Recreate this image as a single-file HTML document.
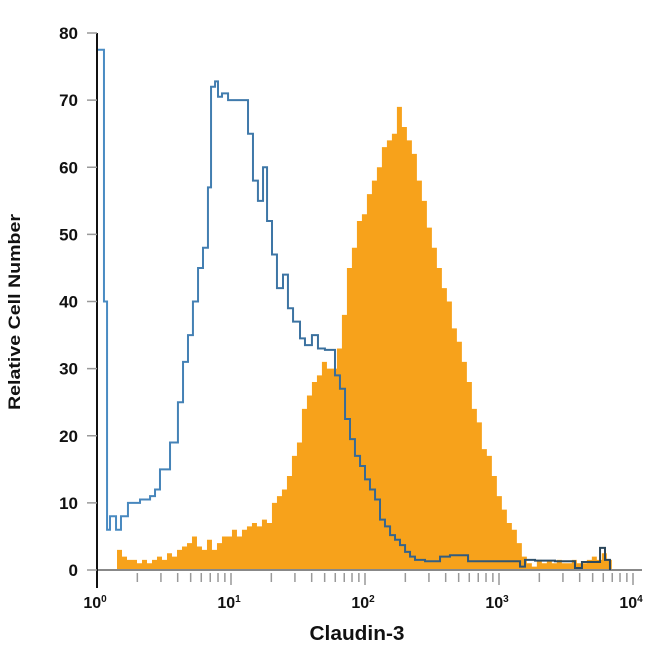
<!DOCTYPE html>
<html><head><meta charset="utf-8"><style>
body{margin:0;background:#fff}
svg text{font-family:"Liberation Sans Narrow","Liberation Sans",sans-serif;font-weight:bold;fill:#111}
</style></head><body>
<svg id="chart" width="650" height="650" viewBox="0 0 650 650" xmlns="http://www.w3.org/2000/svg">
<g id="plot"></g>
<text x="20" y="312" font-size="17" text-anchor="middle" textLength="196" lengthAdjust="spacingAndGlyphs" transform="rotate(-90 20 312)">Relative Cell Number</text>
<text x="357" y="640" font-size="20" text-anchor="middle" textLength="95" lengthAdjust="spacingAndGlyphs">Claudin-3</text>
</svg>
<script>
const yTicks=[0,10,20,30,40,50,60,70,80];
const xDecades=[0,1,2,3,4];
const blueEdges=[0,.052,.075,.097,.142,.179,.231,.269,.321,.396,.433,.470,.545,.604,.642,.679,.716,.754,.791,.828,.851,.881,.903,.933,.978,1.030,1.127,1.164,1.201,1.239,1.269,1.306,1.343,1.388,1.425,1.463,1.515,1.552,1.604,1.649,1.701,1.776,1.813,1.851,1.888,1.925,1.963,2.000,2.037,2.075,2.112,2.149,2.187,2.224,2.261,2.299,2.336,2.373,2.448,2.560,2.634,2.769,3.157,3.194,3.269,3.418,3.567,3.619,3.754,3.791,3.828];
const blueCounts=[77.5,40,6,8,6,8,10,10,10.5,11,12,15,19,25,31,35,40,45,48,57,72,72.8,70.5,71,70,70,65,58,55,60,52,47,42,44,39,37,34.5,33.5,35,33,32.8,29,27,22.5,19.5,17,15.5,13.5,12,10.5,7.5,6.5,5.2,4.5,3.7,2.7,2,1.5,1.3,2,2.2,1.3,0.5,1.5,1.4,1.3,0.3,1.2,3.3,1.5];
const orangeStart=0.112;
const orangeBinWidth=0.0373;
const orangeCounts=[0,3,2,1.5,1.5,1,1.5,1,1.5,2,1.5,2.5,2,3,3.5,4,5,3.5,3,4.5,3,4,5,5,6,5,6,6.5,7,6.5,7.5,7,10,11,12,14,17,19,24,26,28,29,31,30,30,33,38,45,48,52,53,56,58,60,63,64,65,69,66,64,62,58,55,51,48,45,42,40,36,34,31,28,24,22,18,17,14,11,9,7,6,4,2,1,0.5,1.5,1,1.3,1,1.5,1,1,1.5,1,1,1.5,2,1.5,2.5,1.5];

const X0=97,DEC=134,Y0=570,YS=6.7125;
const xs=l=>X0+l*DEC, ys=v=>Y0-v*YS;
const NS="http://www.w3.org/2000/svg";
const plot=document.getElementById('plot');
function mk(t,a){const e=document.createElementNS(NS,t);for(const k in a)e.setAttribute(k,a[k]);plot.appendChild(e);return e;}

let d=`M${xs(orangeStart)},${Y0}`;
orangeCounts.forEach((v,i)=>{const a=xs(orangeStart+i*orangeBinWidth),b=xs(orangeStart+(i+1)*orangeBinWidth);d+=`L${a},${ys(v)}L${b},${ys(v)}`;});
d+=`L${xs(orangeStart+orangeCounts.length*orangeBinWidth)},${Y0}Z`;
const op=mk('path',{d:d,fill:'#f7a21b'});



const bl=mk('line',{x1:X0,y1:Y0,x2:642,y2:Y0,stroke:'#888','stroke-width':2});



let bd=`M${xs(blueEdges[0])},${Y0}`;
blueCounts.forEach((v,i)=>{bd+=`L${xs(blueEdges[i])},${ys(v)}L${xs(blueEdges[i+1])},${ys(v)}`;});
bd+=`L${xs(blueEdges[blueEdges.length-1])},${Y0}`;
const defs=document.createElementNS(NS,'defs');
defs.innerHTML='<linearGradient id="bg" x1="0" x2="1" y1="0" y2="0"><stop offset="0" stop-color="#4a8cc4"/><stop offset="0.45" stop-color="#3a6f9c"/><stop offset="1" stop-color="#2a4458"/></linearGradient>';
plot.appendChild(defs);
const bp=mk('path',{d:bd,fill:'none',stroke:'url(#bg)','stroke-width':2});



const ya=mk('line',{x1:X0,y1:ys(80),x2:X0,y2:588,stroke:'#111','stroke-width':2});


yTicks.forEach(v=>{
  const t=mk('line',{x1:X0-10,y1:ys(v),x2:X0,y2:ys(v),stroke:'#999','stroke-width':1.5});
  
  
  const l=mk('text',{x:78,y:ys(v)+6,'font-size':17,'text-anchor':'end'});
  l.textContent=v;
  
  
});
xDecades.forEach((k,i)=>{
  const l=mk('text',{x:xs(k)-2,y:608,'font-size':16,'text-anchor':'middle'});
  l.innerHTML='10<tspan dy="-6" font-size="10">'+k+'</tspan>';
  
  
  if(i<xDecades.length-1){for(let m=2;m<=10;m++){
    const x=xs(k+Math.log10(m));
    const t=mk('line',{x1:x,y1:Y0+3,x2:x,y2:Y0+(m===10?15:12),stroke:'#999','stroke-width':1.5});
    
    
  }}
});
</script>
</body></html>
